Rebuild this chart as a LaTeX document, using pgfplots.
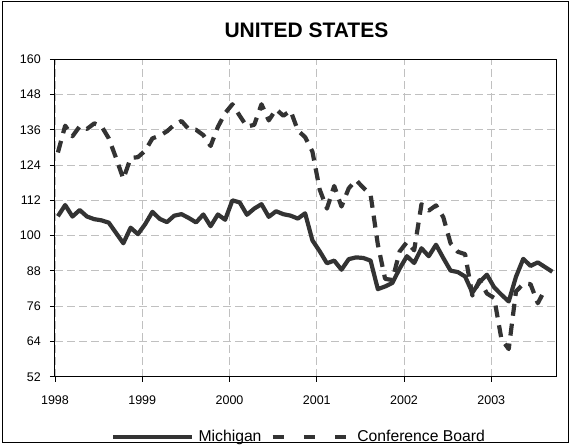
\documentclass[border=0pt]{standalone}
\usepackage{fontspec}
\setmainfont{Liberation Sans}
\usepackage{pgfplots}
\pgfplotsset{compat=1.18}
\definecolor{serie}{HTML}{333333}
\definecolor{gridc}{HTML}{C0C0C0}
\pgfplotsset{
  michleg/.style={legend image code/.code={\draw[##1] (0bp,0bp) -- (79bp,0bp); \path (83.4bp,0bp);}},
  cbleg/.style={legend image code/.code={\path (-9.1bp,0bp); \draw[##1, dash pattern=on 11bp off 20.2bp] (0bp,0bp) -- (73.4bp,0bp); \path (82.6bp,0bp);}},
}
\begin{document}
\begin{tikzpicture}
\useasboundingbox (0,0) rectangle (570bp,445bp);
\draw[line width=1bp, black] (2bp,2bp) rectangle (568bp,443bp);
\node[anchor=base, inner sep=0pt, font=\fontsize{21bp}{25bp}\selectfont\bfseries] at (306.4bp,407.3bp) {UNITED STATES};
\begin{axis}[
  at={(55bp,68.3bp)}, anchor=south west,
  scale only axis, width=501.7bp, height=317.4bp,
  xmin=0, xmax=69, ymin=52, ymax=160,
  xtick={0,12,24,36,48,60}, xticklabels={1998,1999,2000,2001,2002,2003},
  ytick={52,64,76,88,100,112,124,136,148,160},
  yticklabels={52,64,76,88,100,112,124,136,148,160},
  tick align=outside, major tick length=5bp, tick pos=left,
  tick style={black, line width=0.8bp},
  grid=major, major grid style={gridc, line width=0.8bp, dash pattern=on 8bp off 4bp},
  axis line style={black, line width=1bp},
  tick label style={font=\fontsize{12.5bp}{15bp}\selectfont},
  yticklabel style={anchor=east, inner sep=0pt, xshift=-9bp},
  xticklabel style={anchor=north, inner sep=0pt, yshift=-14bp},
  clip=false,
  legend columns=2,
  legend style={at={(0.4842,-0.1900)}, anchor=center, draw=none, fill=none,
    inner sep=0pt, outer sep=0pt, column sep=0pt,
    font=\fontsize{15.7bp}{18bp}\selectfont,
    nodes={inner sep=0pt, text depth=0.15em}},
]
\addplot[serie, line width=4.2bp, line join=round, michleg]
coordinates {
(0.4,106.6)(1.4,110.4)(2.4,106.5)(3.4,108.7)(4.4,106.5)(5.4,105.6)(6.4,105.2)(7.4,104.4)(8.4,100.9)(9.4,97.4)(10.4,102.7)(11.4,100.5)
(12.4,103.9)(13.4,108.1)(14.4,105.7)(15.4,104.6)(16.4,106.8)(17.4,107.3)(18.4,106.0)(19.4,104.5)(20.4,107.2)(21.4,103.2)(22.4,107.2)(23.4,105.4)
(24.4,112.0)(25.4,111.3)(26.4,107.1)(27.4,109.2)(28.4,110.7)(29.4,106.4)(30.4,108.3)(31.4,107.3)(32.4,106.8)(33.4,105.8)(34.4,107.6)(35.4,98.4)
(36.4,94.7)(37.4,90.6)(38.4,91.5)(39.4,88.4)(40.4,92.0)(41.4,92.6)(42.4,92.4)(43.4,91.5)(44.4,81.8)(45.4,82.7)(46.4,83.9)(47.4,88.8)
(48.4,93.0)(49.4,90.7)(50.4,95.7)(51.4,93.0)(52.4,96.9)(53.4,92.4)(54.4,88.1)(55.4,87.6)(56.4,86.1)(57.4,80.6)(58.4,84.2)(59.4,86.7)
(60.4,82.4)(61.4,79.9)(62.4,77.6)(63.4,86.0)(64.4,92.1)(65.4,89.7)(66.4,90.9)(67.4,89.3)(68.4,87.7)
};
\addlegendentry{Michigan}
\addplot[serie, line width=4.2bp, line join=round, dash pattern=on 12bp off 8bp, cbleg]
coordinates {
(0.4,128.3)(1.4,137.4)(2.4,133.8)(3.4,137.2)(4.4,136.3)(5.4,138.2)(6.4,137.2)(7.4,133.1)(8.4,126.4)(9.4,119.3)(10.4,126.4)(11.4,126.7)
(12.4,128.9)(13.4,133.1)(14.4,134.0)(15.4,135.5)(16.4,137.7)(17.4,139.0)(18.4,136.2)(19.4,136.0)(20.4,134.2)(21.4,130.5)(22.4,137.0)(23.4,141.7)
(24.4,144.7)(25.4,140.8)(26.4,137.1)(27.4,137.7)(28.4,144.7)(29.4,139.2)(30.4,143.0)(31.4,140.8)(32.4,142.5)(33.4,135.8)(34.4,133.5)(35.4,128.6)
(36.4,115.7)(37.4,109.2)(38.4,116.9)(39.4,109.9)(40.4,116.1)(41.4,118.9)(42.4,116.3)(43.4,114.0)(44.4,97.0)(45.4,85.3)(46.4,84.9)(47.4,94.6)
(48.4,97.8)(49.4,95.0)(50.4,110.7)(51.4,108.5)(52.4,110.3)(53.4,106.3)(54.4,97.4)(55.4,94.5)(56.4,93.7)(57.4,79.6)(58.4,84.9)(59.4,80.3)
(60.4,78.8)(61.4,64.8)(62.4,61.4)(63.4,81.0)(64.4,83.6)(65.4,83.5)(66.4,77.0)(67.4,81.7)
};
\addlegendentry{Conference Board}
\end{axis}
\end{tikzpicture}
\end{document}
